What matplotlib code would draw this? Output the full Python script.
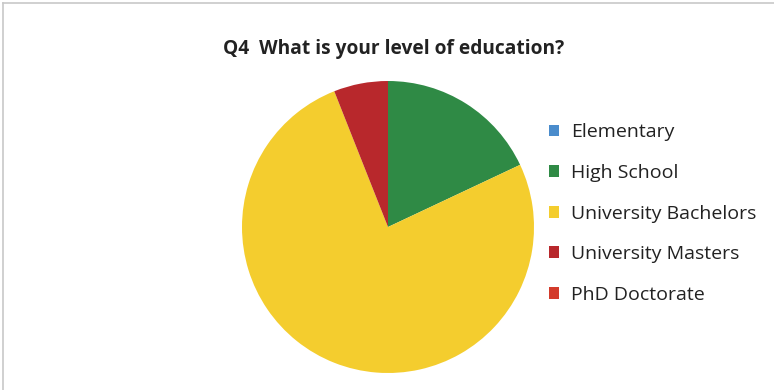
import matplotlib
matplotlib.use("Agg")
import matplotlib.pyplot as plt
from matplotlib.patches import Patch
from matplotlib.lines import Line2D

categories = ["Elementary", "High School", "University Bachelors",
              "University Masters", "PhD Doctorate"]
shares = [0, 18, 76, 6, 0]
colors = ["#4a8ccc", "#2f8a45", "#f4cd2e", "#b8282c", "#d33b2b"]
title = "Q4  What is your level of education?"

W, H = 774, 390
fig = plt.figure(figsize=(W / 100, H / 100), dpi=100)
fig.patch.set_facecolor("white")

# chart frame (top and left edges visible)
fig.add_artist(Line2D([3 / W, 1], [1 - 3 / H, 1 - 3 / H], transform=fig.transFigure,
                      color="#c8c8c8", lw=1.2))
fig.add_artist(Line2D([3 / W, 3 / W], [0, 1 - 3 / H], transform=fig.transFigure,
                      color="#c8c8c8", lw=1.2))

cx, cy, r = 388, 227, 146
ax = fig.add_axes([(cx - r) / W, (H - cy - r) / H, 2 * r / W, 2 * r / H])
ax.pie(shares, colors=colors, startangle=90, counterclock=False,
       wedgeprops=dict(linewidth=0))
ax.set_xlim(-1, 1)
ax.set_ylim(-1, 1)
ax.set_aspect("equal")
ax.axis("off")

fig.text(394 / W, 1 - 49 / H, title, ha="center", va="center",
         fontsize=13.8, fontweight="bold", family="Open Sans", color="#222222")

handles = [Patch(facecolor=c, edgecolor="none") for c in colors]
leg = fig.legend(handles, categories, loc="upper left",
                 bbox_to_anchor=(531 / W, 1 - 106 / H), frameon=False,
                 prop=dict(family="Open Sans", size=14),
                 handlelength=0.55, handleheight=0.55, handletextpad=0.6,
                 labelspacing=1.16, labelcolor="#222222")

fig.savefig("out.png", dpi=100, facecolor="white")
